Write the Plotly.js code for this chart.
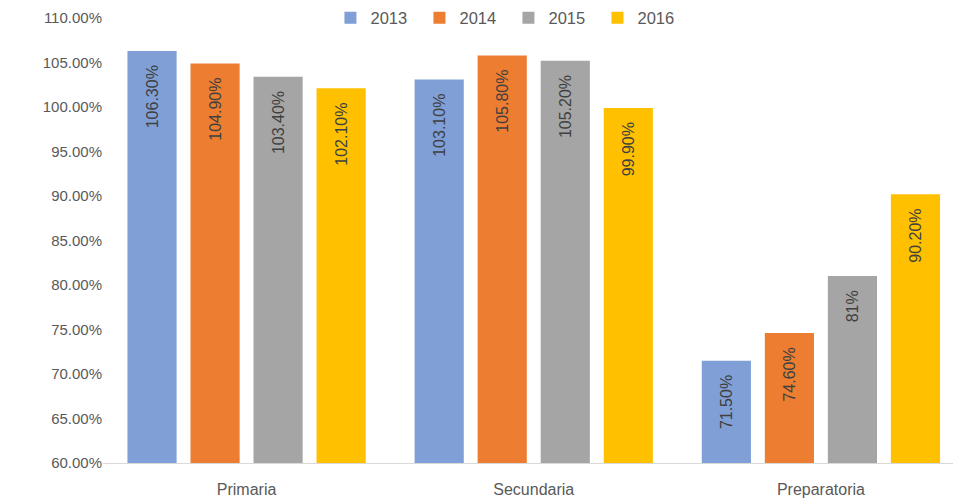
<!DOCTYPE html>
<html>
<head>
<meta charset="utf-8">
<script src="https://cdn.plot.ly/plotly-3.0.1.min.js"></script>
<style>html,body{margin:0;padding:0;background:#fff;}#chart{width:953px;height:499px;}</style>
</head>
<body>
<div id="chart"></div>
<script>
const categories = ["Primaria", "Secundaria", "Preparatoria"];
const years = ["2013", "2014", "2015", "2016"];
const values2013 = [106.3, 103.1, 71.5];
const values2014 = [104.9, 105.8, 74.6];
const values2015 = [103.4, 105.2, 81];
const values2016 = [102.1, 99.9, 90.2];
const labels2013 = ["106.30%", "103.10%", "71.50%"];
const labels2014 = ["104.90%", "105.80%", "74.60%"];
const labels2015 = ["103.40%", "105.20%", "81%"];
const labels2016 = ["102.10%", "99.90%", "90.20%"];
const yTickVals = [60, 65, 70, 75, 80, 85, 90, 95, 100, 105, 110];
const yTickText = ["60.00%", "65.00%", "70.00%", "75.00%", "80.00%", "85.00%", "90.00%", "95.00%", "100.00%", "105.00%", "110.00%"];

const colors = ["#7F9FD6", "#ED7D31", "#A5A5A5", "#FFC000"];
const series = [values2013, values2014, values2015, values2016];
const labels = [labels2013, labels2014, labels2015, labels2016];
const font = "Liberation Sans, Arial, sans-serif";
const pad = "\u2002\u2009"; // visual gap between label and bar top

const traces = series.map((vals, i) => ({
  type: "bar",
  name: years[i],
  x: categories,
  y: vals,
  text: labels[i].map(s => s + pad),
  textposition: "inside",
  insidetextanchor: "end",
  textangle: -90,
  constraintext: "none",
  insidetextfont: {family: font, size: 16, color: "#404040"},
  marker: {color: colors[i], line: {width: 0}},
  hoverinfo: "none",
  cliponaxis: true
}));

const layout = {
  width: 953,
  height: 499,
  margin: {l: 103, r: 0, t: 16, b: 36},
  paper_bgcolor: "#ffffff",
  plot_bgcolor: "#ffffff",
  barmode: "group",
  bargap: 0.122,
  bargroupgap: 0.22,
  font: {family: font, size: 15, color: "#595959"},
  showlegend: true,
  legend: {
    orientation: "h",
    x: 0.477, xanchor: "center",
    y: 1, yanchor: "middle",
    font: {family: font, size: 16.5, color: "#595959"},
    itemwidth: 30,
    entrywidth: 44,
    entrywidthmode: "pixels",
    traceorder: "normal"
  },
  xaxis: {
    type: "category",
    range: [-0.5, 2.46],
    showgrid: false,
    showline: true,
    linecolor: "#D9D9D9",
    linewidth: 1,
    ticks: "",
    ticklabelstandoff: 12,
    tickfont: {family: font, size: 16, color: "#595959"},
    fixedrange: true
  },
  yaxis: {
    range: [60, 110],
    tickvals: yTickVals,
    ticktext: yTickText,
    showgrid: false,
    zeroline: false,
    showline: false,
    ticks: "",
    tickfont: {family: font, size: 15, color: "#595959"},
    automargin: false,
    fixedrange: true
  }
};

Plotly.newPlot("chart", traces, layout, {displayModeBar: false, staticPlot: true});
</script>
</body>
</html>
